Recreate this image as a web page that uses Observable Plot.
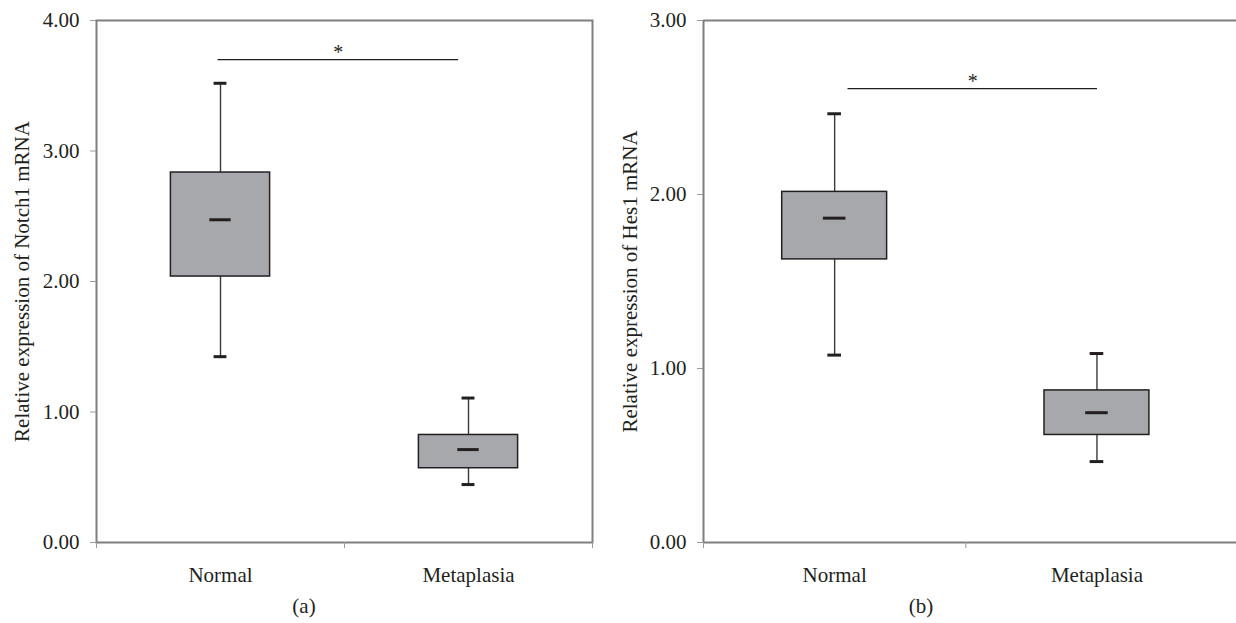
<!DOCTYPE html>
<html><head><meta charset="utf-8">
<script src="https://cdn.jsdelivr.net/npm/d3@7"></script>
<script src="https://cdn.jsdelivr.net/npm/@observablehq/plot@0.6"></script>
<style>
body{margin:0;background:#fff;width:1236px;height:623px;overflow:hidden;position:relative;font-family:"Liberation Serif",serif;}
.panel{position:absolute;top:0;}
.cap{position:absolute;font-size:21px;color:#231f20;transform:translate(-50%,-50%);white-space:nowrap;}
</style></head><body>
<div id="a" class="panel" style="left:0"></div>
<div id="b" class="panel" style="left:606px"></div>
<div class="cap" style="left:304px;top:606px">(a)</div>
<div class="cap" style="left:921px;top:606px">(b)</div>
<script>
// categories
const categories = ["Normal", "Metaplasia"];

// Panel (a): Notch1
const notchMin    = [1.424, 0.444];
const notchQ1     = [2.038, 0.569];
const notchMedian = [2.473, 0.712];
const notchQ3     = [2.835, 0.824];
const notchMax    = [3.519, 1.107];
const notchSig    = [{x1: 0.49, x2: 1.46, y: 3.70, label: "*"}];
const notchTicks  = [0, 1, 2, 3, 4];
const notchLabel  = "Relative expression of Notch1 mRNA";

// Panel (b): Hes1
const hesMin    = [1.077, 0.465];
const hesQ1     = [1.627, 0.618];
const hesMedian = [1.864, 0.746];
const hesQ3     = [2.015, 0.874];
const hesMax    = [2.464, 1.086];
const hesSig    = [{x1: 0.551, x2: 1.502, y: 2.608, label: "*"}];
const hesTicks  = [0, 1, 2, 3];
const hesLabel  = "Relative expression of Hes1 mRNA";

const ink = "#231f20";
const axisGray = "#7f7f7f";

function panel(o) {
  const rows = categories.map((c, i) => ({
    c, x: i + 0.5, lo: o.lo[i], q1: o.q1[i], med: o.med[i], q3: o.q3[i], hi: o.hi[i]
  }));
  const boxW = 0.2, capW = 0.026, medW = 0.043;
  const yMax = o.ticks[o.ticks.length - 1];
  const marks = [];
  if (o.fullFrame) {
    marks.push(Plot.frame({stroke: axisGray, strokeWidth: 2}));
  } else {
    marks.push(Plot.ruleY([0, yMax], {stroke: axisGray, strokeWidth: 2}));
    marks.push(Plot.ruleX([0], {stroke: axisGray, strokeWidth: 2}));
  }
  marks.push(
    Plot.ruleX(rows, {x: "x", y1: "q3", y2: "hi", stroke: "#3a3a3a", strokeWidth: 1.4}),
    Plot.ruleX(rows, {x: "x", y1: "lo", y2: "q1", stroke: "#3a3a3a", strokeWidth: 1.4}),
    Plot.rect(rows, {x1: d => d.x - boxW, x2: d => d.x + boxW, y1: "q1", y2: "q3",
      fill: "#a7a8ab", stroke: ink, strokeWidth: 1.5}),
    Plot.ruleY(rows, {y: "med", x1: d => d.x - medW, x2: d => d.x + medW, stroke: ink, strokeWidth: 3}),
    Plot.ruleY(rows, {y: "hi", x1: d => d.x - capW, x2: d => d.x + capW, stroke: ink, strokeWidth: 3}),
    Plot.ruleY(rows, {y: "lo", x1: d => d.x - capW, x2: d => d.x + capW, stroke: ink, strokeWidth: 3}),
    Plot.ruleY(o.sig, {y: "y", x1: "x1", x2: "x2", stroke: ink, strokeWidth: 1.3}),
    Plot.text(o.sig, {x: d => (d.x1 + d.x2) / 2, y: "y", text: "label", dy: -7,
      fontSize: 20, fill: ink}),
    Plot.axisY({ticks: o.ticks, tickFormat: d3.format(".2f"), tickSize: 6, tickPadding: 11,
      stroke: "#9a9a9a", fill: ink, label: null, fontSize: 21}),
    Plot.axisX({ticks: o.xTicks, tickFormat: () => "", tickSize: 6, stroke: "#9a9a9a", label: null}),
    Plot.axisX({ticks: [0.5, 1.5], tickFormat: d => categories[Math.floor(d)], tickSize: 0,
      tickPadding: 25, fill: ink, label: null, fontSize: 21}),
    Plot.text([o.yLabel], {frameAnchor: "left", textAnchor: "middle", lineAnchor: "middle",
      rotate: -90, dx: o.labelDx, text: d => d, fontSize: 21, fill: ink})
  );
  return Plot.plot({
    width: o.width, height: 600,
    marginLeft: o.marginLeft, marginRight: o.marginRight, marginTop: 20, marginBottom: 58,
    x: {domain: [0, o.xMax]},
    y: {domain: [0, yMax]},
    style: {fontFamily: "Liberation Serif, serif", fontSize: "21px", background: "transparent", overflow: "visible"},
    marks
  });
}

document.getElementById("a").append(panel({
  lo: notchMin, q1: notchQ1, med: notchMedian, q3: notchQ3, hi: notchMax,
  sig: notchSig, ticks: notchTicks, yLabel: notchLabel,
  xMax: 2, xTicks: [0, 1, 2], width: 600, marginLeft: 96, marginRight: 8,
  fullFrame: true, labelDx: -74
}));
document.getElementById("b").append(panel({
  lo: hesMin, q1: hesQ1, med: hesMedian, q3: hesQ3, hi: hesMax,
  sig: hesSig, ticks: hesTicks, yLabel: hesLabel,
  xMax: 2.032, xTicks: [0, 1], width: 630, marginLeft: 97, marginRight: 0,
  fullFrame: false, labelDx: -73
}));
</script>
</body></html>
